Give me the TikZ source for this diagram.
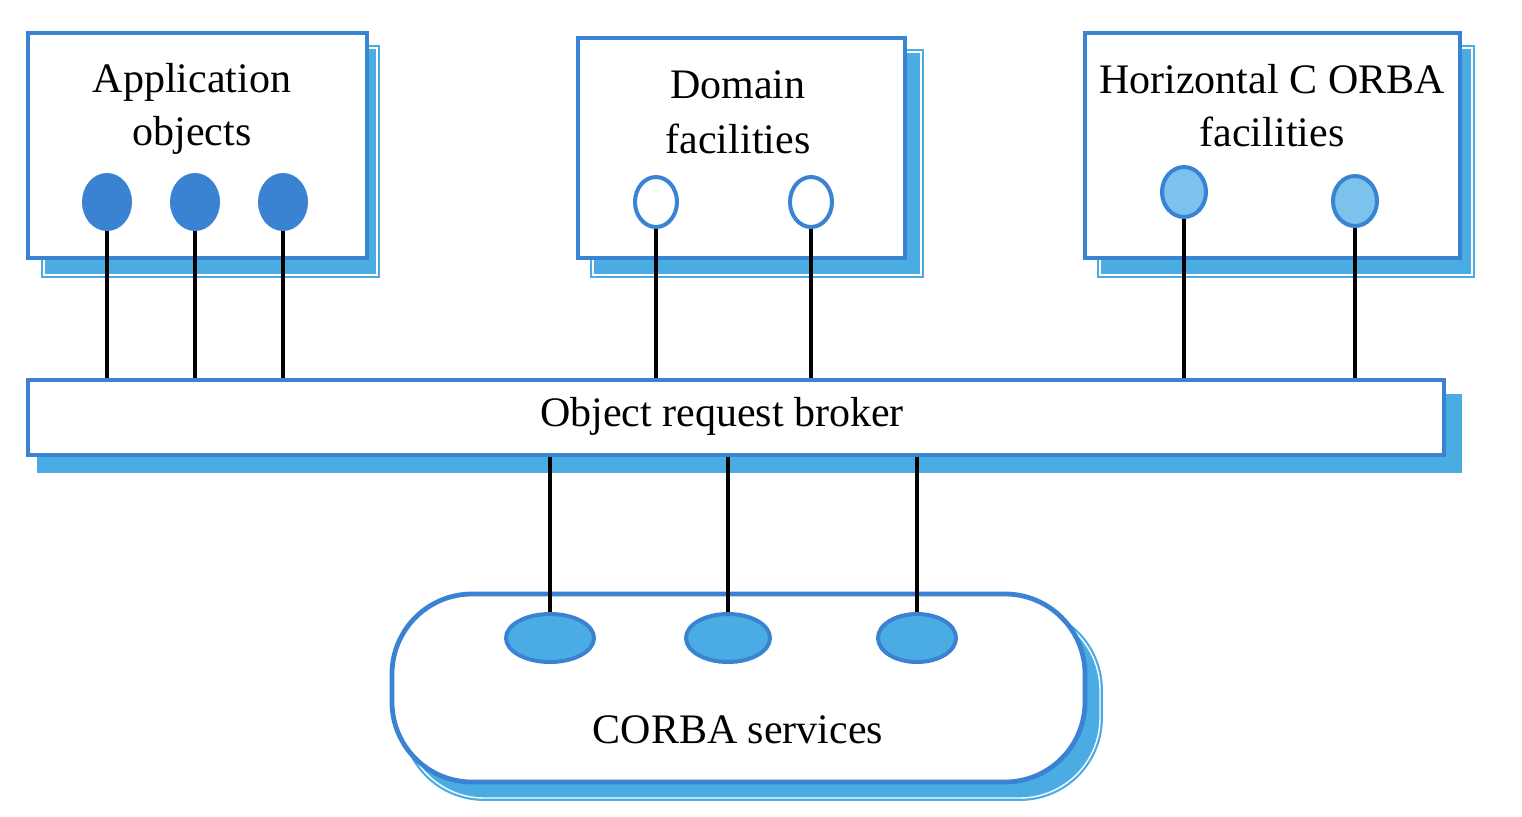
\documentclass[tikz,border=0pt]{standalone}
\usepackage{fontspec}
\setmainfont{Liberation Serif}
\usetikzlibrary{shapes.geometric}
\definecolor{dblue}{HTML}{3A82D2}
\definecolor{lblue}{HTML}{4BACE4}
\definecolor{pblue}{HTML}{7BC3EC}
\begin{document}
\begin{tikzpicture}[x=0.5pt,y=-0.5pt,
  front/.style={draw=dblue,line width=2.4pt,fill=white,rectangle,inner sep=0pt},
  shadowbox/.style={draw=lblue,fill=lblue,line width=1.1pt,double=white,double distance=0.7pt,rectangle,inner sep=0pt},
  plainshadow/.style={draw=lblue,fill=lblue,line width=1pt,rectangle,inner sep=0pt},
  dot/.style={ellipse,inner sep=0pt,draw=dblue,line width=2pt},
  wire/.style={black,line width=2.1pt},
  lbl/.style={font=\fontsize{21}{26.5}\selectfont,align=center,inner sep=0pt}]
\useasboundingbox (0,0) rectangle (1522,816);
% Application objects
\node[shadowbox,minimum width=166.5pt,minimum height=113.5pt] (appS) at (210.5,161.5) {};
\node[front,minimum width=169.5pt,minimum height=112.5pt] (app) at (197.5,145.5) {};
\node[lbl] (appT) at (192,109) {Application\\objects};
\node[dot,fill=dblue,minimum width=23pt,minimum height=27pt] (a1) at (107,202) {};
\node[dot,fill=dblue,minimum width=23pt,minimum height=27pt] (a2) at (195,202) {};
\node[dot,fill=dblue,minimum width=23pt,minimum height=27pt] (a3) at (283,202) {};
% Domain facilities
\node[shadowbox,minimum width=164pt,minimum height=111.5pt] (domS) at (757,163.5) {};
\node[front,minimum width=163.5pt,minimum height=110pt] (dom) at (741.5,148) {};
\node[lbl,font=\fontsize{21}{27.5}\selectfont] (domT) at (738,112) {Domain\\facilities};
\node[dot,fill=white,minimum width=21pt,minimum height=25pt] (d1) at (656,202) {};
\node[dot,fill=white,minimum width=21pt,minimum height=25pt] (d2) at (811,202) {};
% Horizontal CORBA facilities
\node[shadowbox,minimum width=186pt,minimum height=113.5pt] (horS) at (1286,161.5) {};
\node[front,minimum width=187.5pt,minimum height=112.5pt] (hor) at (1272.5,145.5) {};
\node[lbl] (horT) at (1272,106) {Horizontal C ORBA\\facilities};
\node[dot,fill=pblue,minimum width=22pt,minimum height=25pt] (h1) at (1184,192) {};
\node[dot,fill=pblue,minimum width=22pt,minimum height=25pt] (h2) at (1355,201) {};
% ORB
\node[plainshadow,minimum width=711.5pt,minimum height=38.5pt] (orbS) at (749.5,433.5) {};
\node[front,minimum width=708pt,minimum height=37.5pt] (orb) at (736,417.5) {};
\node[lbl] (orbT) at (722,416) {Object request broker};
% CORBA services
\node[shadowbox,rounded corners=40pt,minimum width=348pt,minimum height=94pt] (svcS) at (752,704) {};
\node[front,rounded corners=40pt,minimum width=346.5pt,minimum height=94pt] (svc) at (738.5,688) {};
\node[lbl] (svcT) at (738,730) {CORBA services};
\node[dot,fill=lblue,minimum width=44pt,minimum height=24pt] (s1) at (550,638) {};
\node[dot,fill=lblue,minimum width=42pt,minimum height=24pt] (s2) at (728,638) {};
\node[dot,fill=lblue,minimum width=39pt,minimum height=24pt] (s3) at (917,638) {};
% wires
\foreach \n in {a1,a2,a3,d1,d2,h1,h2}
  \draw[wire] (\n.south) -- (\n.south |- orb.north);
\foreach \n in {s1,s2,s3}
  \draw[wire] (orb.south -| \n.north) -- (\n.north);
\end{tikzpicture}
\end{document}
